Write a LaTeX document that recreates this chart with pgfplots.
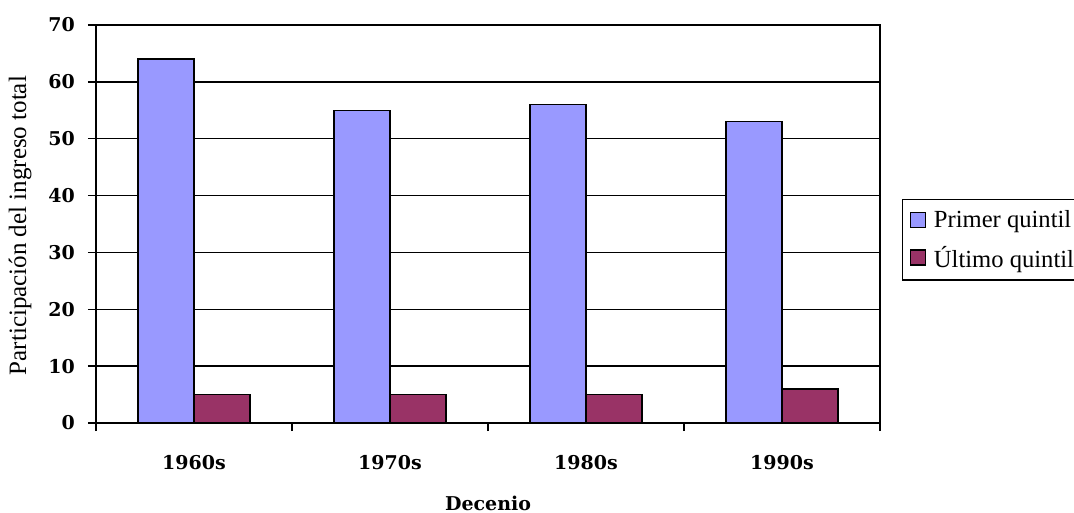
\documentclass[border=0pt]{standalone}
\usepackage{pgfplots}
\pgfplotsset{compat=1.18}
\usepackage{fontspec}
\setmainfont{Liberation Serif}
\newfontfamily\tickfont{DejaVu Serif}
\definecolor{primer}{HTML}{9999FF}
\definecolor{ultimo}{HTML}{993366}
\begin{document}
\begin{tikzpicture}
\useasboundingbox[fill=white] (0,0) rectangle (1074bp,513bp);
\begin{axis}[
  at={(96bp,90bp)}, anchor=south west,
  scale only axis, width=784bp, height=398bp,
  xmin=-0.5, xmax=3.5, ymin=0, ymax=70,
  ytick={0,10,...,70},
  xtick={-0.5,0.5,1.5,2.5,3.5},
  xticklabels={1960s,1970s,1980s,1990s},
  x tick label as interval,
  tick align=outside, major tick length=8bp,
  xtick pos=bottom, ytick pos=left,
  tick style={black, line width=1.4bp},
  axis line style={black, line width=1.5bp},
  ymajorgrids, grid style={black, line width=1.3bp},
  /pgf/number format/assume math mode=true,
  ticklabel style={font=\tickfont\bfseries\fontsize{19bp}{24bp}\selectfont, inner sep=0pt},
  yticklabel style={anchor=east, xshift=-13bp},
  xticklabel style={anchor=base, yshift=-38bp},
  every axis x label/.style={at={(axis description cs:0.5,0)}, anchor=base, yshift=-87bp, font=\tickfont\bfseries\fontsize{19bp}{24bp}\selectfont},
  every axis y label/.style={at={(axis description cs:-0.0969,0.496)}, anchor=center, rotate=90, font=\fontsize{25bp}{30bp}\selectfont},
  xlabel={Decenio},
  ylabel={Participación del ingreso total},
  ybar=0pt, bar width=56bp,
  legend style={at={(axis description cs:1.028,0.5628)}, anchor=north west,
    draw=black, line width=1.4bp, font=\fontsize{24.6bp}{30bp}\selectfont,
    inner xsep=7bp, inner ysep=9bp, row sep=13bp,
    /tikz/every odd column/.append style={column sep=6bp}},
  legend cell align=left,
  legend image code/.code={\draw[#1, line width=1.3bp] (0bp,-7.5bp) rectangle (15bp,7.5bp);},
]
\addplot[fill=primer, draw=black, line width=1.4bp] coordinates {(0,64) (1,55) (2,56) (3,53)};
\addplot[fill=ultimo, draw=black, line width=1.4bp] coordinates {(0,5) (1,5) (2,5) (3,6)};
\legend{Primer quintil, Último quintil}
\end{axis}
\end{tikzpicture}
\end{document}
